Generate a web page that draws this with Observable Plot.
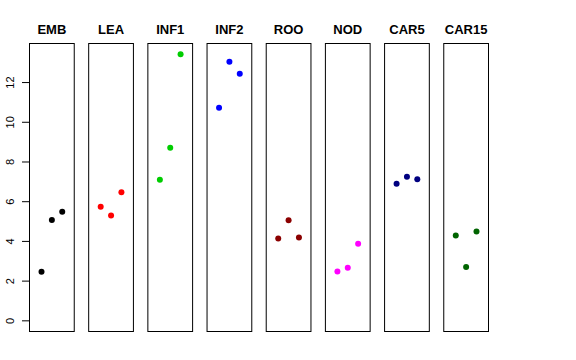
<!DOCTYPE html>
<html>
<head>
<meta charset="utf-8">
<script src="https://cdn.jsdelivr.net/npm/d3@7"></script>
<script src="https://cdn.jsdelivr.net/npm/@observablehq/plot@0.6"></script>
<style>
  html, body { margin: 0; padding: 0; background: #fff; }
  #chart { width: 576px; height: 360px; }
</style>
</head>
<body>
<div id="chart"></div>
<script>
const panels = ["EMB", "LEA", "INF1", "INF2", "ROO", "NOD", "CAR5", "CAR15"];
const panelColors = ["#000000", "#FF0000", "#00CD00", "#0000FF", "#8B0000", "#FF00FF", "#000080", "#006400"];
const replicate = [1, 2, 3];
const EMB = [2.47, 5.08, 5.50];
const LEA = [5.75, 5.30, 6.47];
const INF1 = [7.11, 8.72, 13.43];
const INF2 = [10.73, 13.05, 12.44];
const ROO = [4.15, 5.06, 4.20];
const NOD = [2.49, 2.67, 3.88];
const CAR5 = [6.91, 7.26, 7.13];
const CAR15 = [4.30, 2.71, 4.50];
const yTicks = [0, 2, 4, 6, 8, 10, 12];

const series = {EMB, LEA, INF1, INF2, ROO, NOD, CAR5, CAR15};
const data = panels.flatMap(p => series[p].map((v, i) => ({panel: p, rep: replicate[i], value: v})));

const yMax = d3.max(data, d => d.value);
const yPad = (yMax - 0) * 0.04;
const xPad = (4 - 0) * 0.04;

const chart = Plot.plot({
  width: 576,
  height: 360,
  marginLeft: 29,
  marginRight: 88,
  marginTop: 43,
  marginBottom: 29,
  style: {fontFamily: "'Liberation Sans', Arial, Helvetica, sans-serif", background: "#fff", color: "#000"},
  fx: {domain: panels, paddingInner: 0.244, paddingOuter: 0, round: false, axis: null, label: null},
  x: {domain: [0 - xPad, 4 + xPad], axis: null, label: null},
  y: {domain: [0 - yPad, yMax + yPad], axis: null, label: null},
  color: {domain: panels, range: panelColors},
  marks: [
    Plot.frame({stroke: "#000", strokeWidth: 1}),
    Plot.dot(data, {fx: "panel", x: "rep", y: "value", fill: "panel", r: 3, stroke: null}),
    Plot.axisY(yTicks, {anchor: "left", label: null, tickSize: 7, tickPadding: 9, tickRotate: -90, fontSize: 11, tickFormat: d => String(d), stroke: "#000"}),
    Plot.text(panels, {fx: d => d, text: d => d, frameAnchor: "top", lineAnchor: "bottom", dy: -10, fontSize: 13, fontWeight: "bold", fill: "#000"})
  ]
});
document.getElementById("chart").appendChild(chart);
</script>
</body>
</html>
